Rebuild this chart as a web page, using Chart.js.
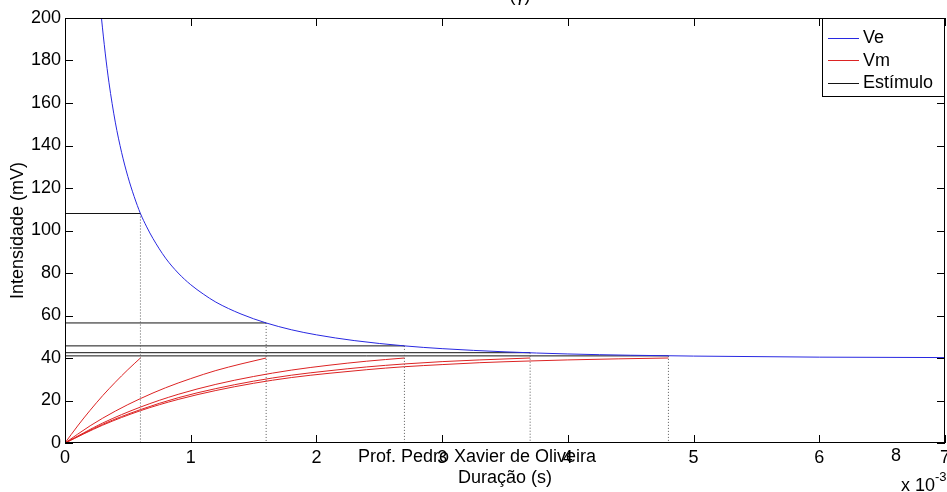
<!DOCTYPE html>
<html>
<head>
<meta charset="utf-8">
<script src="https://cdn.jsdelivr.net/npm/chart.js@4.4.1/dist/chart.umd.min.js"></script>
<style>
  html, body { margin: 0; padding: 0; background: #fff; }
  #wrap { width: 947px; height: 492px; }
</style>
</head>
<body>
<div id="wrap"><canvas id="myChart" width="947" height="492"></canvas></div>
<script>
// curva de Ve (limiar) em funcao da duracao (ms)
const tVe = [0.28, 0.29, 0.32, 0.35, 0.4, 0.45, 0.5, 0.55, 0.6, 0.65, 0.7, 0.8, 0.9, 1.0, 1.1, 1.2, 1.4, 1.6, 1.8, 2.0, 2.3, 2.7, 3.0, 3.5, 4.0, 4.5, 5.0, 6.0, 7.0];
const ve  = [206, 200, 183.5, 169.5, 151, 136.8, 125.4, 116, 108, 101.7, 96.2, 87.0, 80.0, 74.5, 70.1, 66.3, 60.7, 56.5, 53.3, 50.9, 48.2, 45.7, 44.4, 42.9, 41.9, 41.3, 40.9, 40.4, 40.2];

// respostas de Vm para cada estimulo
const tVm1 = [0, 0.1, 0.2, 0.3, 0.4, 0.5, 0.6];
const vm1  = [0, 8.0, 15.4, 22.3, 28.6, 34.5, 40.0];
const tVm2 = [0, 0.2, 0.4, 0.6, 0.8, 1.0, 1.2, 1.4, 1.6];
const vm2  = [0, 8.1, 15.0, 20.9, 26.0, 30.3, 34.1, 37.2, 40.0];
const tVm3 = [0, 0.3, 0.6, 0.9, 1.2, 1.5, 1.8, 2.1, 2.4, 2.7];
const vm3  = [0, 9.4, 16.9, 22.9, 27.6, 31.3, 34.3, 36.6, 38.5, 40.0];
const tVm4 = [0, 0.3, 0.6, 0.9, 1.2, 1.5, 1.8, 2.1, 2.4, 2.7, 3.0, 3.3, 3.7];
const vm4  = [0, 8.8, 15.7, 21.3, 25.6, 29.1, 31.9, 34.0, 35.8, 37.2, 38.3, 39.1, 40.0];
const tVm5 = [0, 0.3, 0.6, 0.9, 1.2, 1.5, 1.8, 2.1, 2.4, 2.7, 3.0, 3.3, 3.7, 4.0, 4.4, 4.8];
const vm5  = [0, 8.4, 15.2, 20.5, 24.7, 28.1, 30.8, 32.8, 34.5, 35.9, 36.9, 37.8, 38.6, 39.1, 39.6, 40.0];

// estimulos: intensidade (mV) e duracao (ms)
const stimLevel = [108, 56.5, 45.7, 42.5, 41.0];
const stimDur   = [0.6, 1.6, 2.7, 3.7, 4.8];

const xTicks = [0, 1, 2, 3, 4, 5, 6, 7];
const yTicks = [0, 20, 40, 60, 80, 100, 120, 140, 160, 180, 200];

const FONT = "'Liberation Sans', Arial, sans-serif";
const BLUE = 'rgb(40,40,225)';
const RED = 'rgb(220,35,35)';
const BLACK = 'rgb(20,20,20)';

function pts(xs, ys) {
  return xs.map(function(x, i){ return {x: x, y: ys[i]}; });
}

let datasets = [];
datasets.push({ label: 'Ve', data: pts(tVe, ve), borderColor: BLUE, borderWidth: 1, cubicInterpolationMode: 'monotone' });
[[tVm1, vm1], [tVm2, vm2], [tVm3, vm3], [tVm4, vm4], [tVm5, vm5]].forEach(function(c, i){
  datasets.push({ label: i == 0 ? 'Vm' : 'Vm' + (i + 1), data: pts(c[0], c[1]), borderColor: RED, borderWidth: 1, cubicInterpolationMode: 'monotone' });
});
stimLevel.forEach(function(L, i){
  datasets.push({ label: i == 0 ? 'Estímulo' : 'Est' + i, data: [{x: 0, y: L}, {x: stimDur[i], y: L}], borderColor: BLACK, borderWidth: 1 });
  datasets.push({ label: 'drop' + i, data: [{x: stimDur[i], y: L}, {x: stimDur[i], y: 0}], borderColor: 'rgb(90,90,90)', borderWidth: 1, borderDash: [1, 2] });
});

// caixa, ticks internos, legenda e textos soltos
const extras = {
  id: 'extras',
  afterDraw(chart) {
    const ctx = chart.ctx;
    const a = chart.chartArea;
    const xs = chart.scales.x, ys = chart.scales.y;
    ctx.save();
    ctx.strokeStyle = '#000';
    ctx.lineWidth = 1;
    ctx.strokeRect(Math.round(a.left) + 0.5, Math.round(a.top) + 0.5, Math.round(a.right - a.left) - 1, Math.round(a.bottom - a.top) - 1);
    ctx.beginPath();
    xTicks.forEach(function(v){
      const px = Math.round(xs.getPixelForValue(v)) + 0.5;
      ctx.moveTo(px, a.bottom); ctx.lineTo(px, a.bottom - 8);
      ctx.moveTo(px, a.top); ctx.lineTo(px, a.top + 8);
    });
    yTicks.forEach(function(v){
      const py = Math.round(ys.getPixelForValue(v)) + 0.5;
      ctx.moveTo(a.left, py); ctx.lineTo(a.left + 8, py);
      ctx.moveTo(a.right, py); ctx.lineTo(a.right - 8, py);
    });
    ctx.stroke();

    // legenda
    const lx = 822, ly = 18, lw = 122, lh = 78;
    ctx.fillStyle = '#fff';
    ctx.fillRect(lx, ly, lw, lh);
    ctx.strokeStyle = '#000';
    ctx.strokeRect(lx + 0.5, ly + 0.5, lw, lh);
    const items = [['Ve', BLUE], ['Vm', RED], ['Estímulo', BLACK]];
    ctx.font = '18px ' + FONT;
    ctx.textBaseline = 'middle';
    ctx.textAlign = 'left';
    items.forEach(function(it, i){
      const y = 37.5 + i * 22.5;
      ctx.strokeStyle = it[1];
      ctx.beginPath(); ctx.moveTo(828, Math.round(y) + 0.5); ctx.lineTo(859, Math.round(y) + 0.5); ctx.stroke();
      ctx.fillStyle = '#000';
      ctx.fillText(it[0], 863, y + 1);
    });

    // textos soltos
    ctx.fillStyle = '#000';
    ctx.textBaseline = 'alphabetic';
    ctx.textAlign = 'center';
    ctx.fillText('Prof. Pedro Xavier de Oliveira', 477, 462);
    ctx.fillText('8', 896, 461);
    ctx.fillText('(γ)', 520, 1);
    ctx.textAlign = 'left';
    ctx.fillText('x 10', 901, 491);
    ctx.font = '13px ' + FONT;
    ctx.fillText('-3', 935, 481);
    ctx.restore();
  }
};

const ctx1 = document.getElementById('myChart').getContext('2d');
const chart1 = new Chart(ctx1, {
  type: 'line',
  data: { datasets: datasets },
  options: {
    responsive: false,
    animation: false,
    devicePixelRatio: 1,
    layout: { padding: { top: 18, right: 2, left: 0, bottom: 0 } },
    elements: { point: { radius: 0 }, line: { fill: false } },
    plugins: { legend: { display: false }, tooltip: { enabled: false } },
    scales: {
      x: {
        type: 'linear', min: 0, max: 7,
        afterBuildTicks: function(s){ s.ticks = xTicks.map(function(v){ return {value: v}; }); },
        afterFit: function(s){ s.height = 49; s.paddingLeft = 0; s.paddingRight = 0; },
        grid: { display: false, drawTicks: false },
        border: { display: false },
        ticks: { color: '#000', padding: 4, maxRotation: 0, autoSkip: false, font: { family: FONT, size: 18 } },
        title: { display: true, text: 'Duração (s)', color: '#000', padding: { top: 0, bottom: 3 }, font: { family: FONT, size: 18 } }
      },
      y: {
        min: 0, max: 200,
        afterBuildTicks: function(s){ s.ticks = yTicks.map(function(v){ return {value: v}; }); },
        afterFit: function(s){ s.width = 65; s.paddingTop = 0; s.paddingBottom = 0; },
        grid: { display: false, drawTicks: false },
        border: { display: false },
        ticks: { color: '#000', padding: 4, autoSkip: false, font: { family: FONT, size: 18 } },
        title: { display: true, text: 'Intensidade (mV)', color: '#000', padding: { top: 7, bottom: 0 }, font: { family: FONT, size: 18 } }
      }
    }
  },
  plugins: [extras]
});
</script>
</body>
</html>
